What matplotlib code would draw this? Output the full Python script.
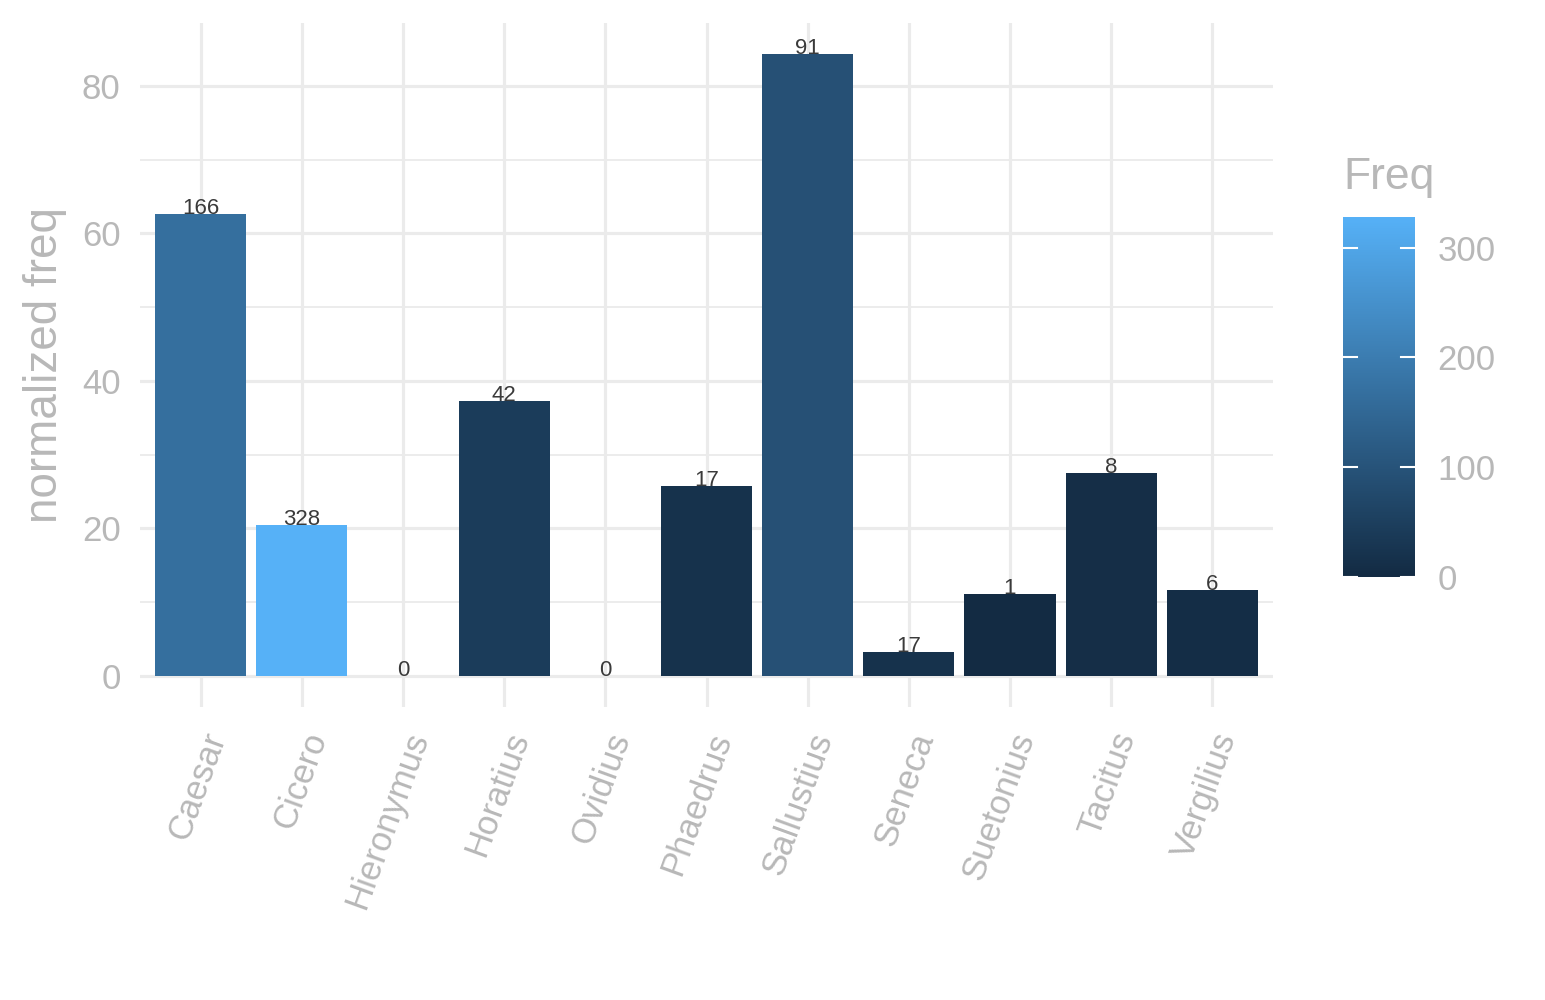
import matplotlib
matplotlib.use("Agg")
import matplotlib.pyplot as plt
import numpy as np
from matplotlib.colors import LinearSegmentedColormap, Normalize

# data #
########

authors = ["Caesar", "Cicero", "Hieronymus", "Horatius", "Ovidius", "Phaedrus",
           "Sallustius", "Seneca", "Suetonius", "Tacitus", "Vergilius"]
norm_freq = [62.6, 20.5, 0.0, 37.3, 0.0, 25.8, 84.3, 3.2, 11.1, 27.5, 11.7]
freq = [166, 328, 0, 42, 0, 17, 91, 17, 1, 8, 6]

# style #
#########

plt.rcParams['font.family'] = ['Liberation Sans', 'DejaVu Sans']
grid_col = '#EBEBEB'
text_col = '#B8B8B8'
cmap = LinearSegmentedColormap.from_list('gg', ['#132B43', '#56B1F7'])
cnorm = Normalize(vmin=0, vmax=max(freq))

fig = plt.figure(figsize=(15.45, 10), dpi=100)
ax = fig.add_axes([140 / 1545, 293 / 1000, 1133 / 1545, 684 / 1000])

x = np.arange(len(authors))
ymax = max(norm_freq)
ax.set_xlim(-0.6, len(authors) - 0.4)
ax.set_ylim(-0.05 * ymax, 1.05 * ymax)

# grid
for yv in [10, 30, 50, 70]:
    ax.axhline(yv, color=grid_col, lw=1.3, zorder=0)
for yv in [0, 20, 40, 60, 80]:
    ax.axhline(yv, color=grid_col, lw=2.3, zorder=0)
for xv in x:
    ax.axvline(xv, color=grid_col, lw=2.3, zorder=0)

ax.bar(x, norm_freq, width=0.9, color=cmap(cnorm(np.array(freq))), zorder=2)
for xi, v, f in zip(x, norm_freq, freq):
    ax.text(xi, v, str(f), ha='center', va='baseline', fontsize=16,
            color='#3a3a3a', zorder=3)

for s in ax.spines.values():
    s.set_visible(False)
ax.set_yticks([0, 20, 40, 60, 80])
ax.set_xticks(x)
ax.set_xticklabels(authors, rotation=70, ha='right', va='top',
                   rotation_mode='anchor')
ax.tick_params(axis='both', length=0, labelcolor=text_col)
ax.tick_params(axis='y', pad=14, labelsize=25)
ax.tick_params(axis='x', pad=15, labelsize=25)
ax.set_ylabel('normalized freq', fontsize=33, color=text_col)
ax.yaxis.set_label_coords(-0.064, 0.5)

# colour bar #
##############

cax = fig.add_axes([1343 / 1545, 423 / 1000, 72 / 1545, 360 / 1000])
grad = np.linspace(0, max(freq), 256).reshape(-1, 1)
cax.imshow(grad, aspect='auto', cmap=cmap, norm=cnorm, origin='lower',
           extent=[0, 1, 0, max(freq)])
cax.set_xlim(0, 1)
cax.set_ylim(0, max(freq))
for t in [0, 100, 200, 300]:
    cax.plot([0, 0.2], [t, t], color='white', lw=1.5)
    cax.plot([0.8, 1], [t, t], color='white', lw=1.5)
cax.set_xticks([])
cax.set_yticks([0, 100, 200, 300])
cax.yaxis.tick_right()
cax.tick_params(axis='y', length=0, labelsize=25, labelcolor=text_col, pad=16)
for s in cax.spines.values():
    s.set_visible(False)
fig.text(1343 / 1545, 1 - 177 / 1000, 'Freq', fontsize=32, color=text_col,
         ha='left', va='center')

fig.savefig('out.png', dpi=100, facecolor='white')
